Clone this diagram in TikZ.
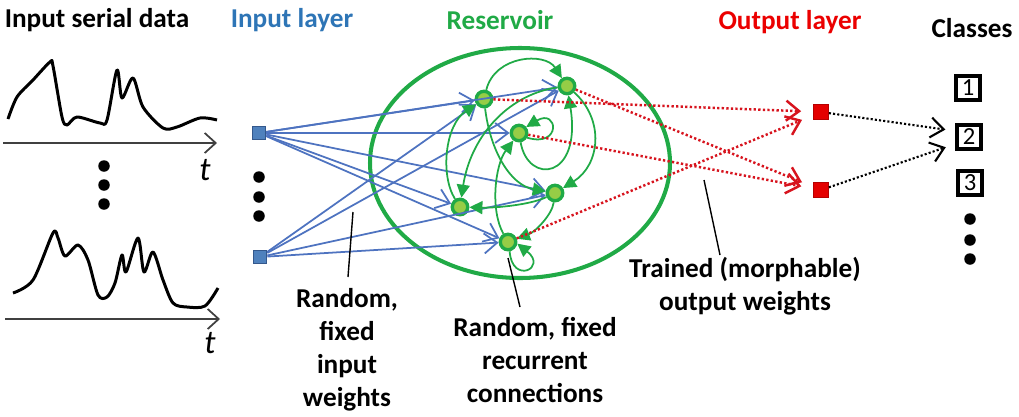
\documentclass[tikz,border=0pt]{standalone}
\usepackage{fontspec}
\setmainfont{Carlito}
\usepackage{tikz}
\usetikzlibrary{positioning,arrows.meta,calc}
\definecolor{inblue}{RGB}{46,117,182}
\definecolor{wblue}{RGB}{78,115,192}
\definecolor{sqblue}{RGB}{79,129,189}
\definecolor{sqedge}{RGB}{52,88,140}
\definecolor{resgreen}{RGB}{32,170,70}
\definecolor{nfill}{RGB}{150,205,70}
\definecolor{outred}{RGB}{235,0,0}
\definecolor{sqred}{RGB}{228,0,0}
\definecolor{dotred}{RGB}{215,20,30}
\tikzset{
  title/.style={font=\fontsize{15.5}{18}\selectfont\bfseries, inner sep=0pt},
  lbl/.style={font=\fontsize{15.5}{18.8}\selectfont\bfseries, align=center, inner sep=0pt},
  insq/.style={rectangle, draw=sqedge, fill=sqblue, line width=0.9pt, minimum size=2.6mm, inner sep=0pt},
  outsq/.style={rectangle, draw=sqred!80!black, fill=sqred, line width=0.7pt, minimum size=2.9mm, inner sep=0pt},
  neuron/.style={circle, draw=resgreen, fill=nfill, line width=1.9pt, minimum size=3.1mm, inner sep=0pt},
  cls/.style={rectangle, draw=black, line width=2pt, minimum size=4.8mm, inner sep=0pt, font=\fontsize{14}{15}\selectfont},
  bigdot/.style={circle, fill=black, minimum size=2.3mm, inner sep=0pt},
  sig/.style={line width=1.7pt, line join=round},
  axis/.style={-{Straight Barb[length=2.2mm,width=4mm]}, line width=1pt, draw=black!75},
  inw/.style={-{Straight Barb[length=2.6mm,width=4mm]}, line width=1pt, draw=wblue},
  rec/.style={-{Triangle[length=2.6mm,width=2.6mm]}, line width=1pt, draw=resgreen},
  outw/.style={-{Straight Barb[length=2.6mm,width=4mm]}, line width=1.4pt, draw=dotred, dash pattern=on 1.3pt off 1.3pt, shorten >=2.4mm},
  clw/.style={-{Straight Barb[length=2.6mm,width=4mm]}, line width=1.2pt, draw=black, dash pattern=on 1.2pt off 1.2pt, shorten >=2mm},
  ptr/.style={line width=0.8pt, draw=black},
}
\begin{document}
\begin{tikzpicture}[x=0.2mm, y=-0.2mm]
  \useasboundingbox (0,0) rectangle (1019,416);

  \node[title] (tin) at (97,20) {Input serial data};
  \node[title, text=inblue] (tlay) at (292,20) {Input layer};
  \node[title, text=resgreen] (tres) at (500,20) {Reservoir};
  \node[title, text=outred] (tout) at (790,22) {Output layer};
  \node[title] (tcls) at (972,28) {Classes};

  % input signals
  \draw[sig] plot[smooth, tension=0.5] coordinates {(8,119) (17,97) (33,80) (50,62) (53,66) (62,117) (67,125) (77,117) (100,123) (107,120) (117,70) (122,98) (133,78) (143,107) (163,128) (177,127) (200,118) (217,120)};
  \draw[axis] (3,143) -- (217,143);
  \node[font=\fontsize{19}{20}\selectfont\itshape] (t1) at (205,170) {t};
  \foreach \yy in {166,185,204} \node[bigdot] at (104,\yy) {};
  \draw[sig] plot[smooth, tension=0.5] coordinates {(13,293) (33,280) (53,233) (58,238) (65,256) (78,245) (88,260) (98,295) (107,297) (115,283) (122,255) (126,272) (138,238) (144,272) (153,252) (163,280) (173,303) (187,307) (205,306) (218,288)};
  \draw[axis] (5,319) -- (220,319);
  \node[font=\fontsize{19}{20}\selectfont\itshape] (t2) at (210,343) {t};

  % input layer
  \node[insq] (i1) at (259,133) {};
  \node[insq] (i2) at (260,257) {};
  \foreach \yy in {177,197,216} \node[bigdot] at (259,\yy) {};

  % reservoir
  \draw[resgreen, line width=2.3pt] (520,163) ellipse [x radius=150, y radius=115];
  \node[neuron] (n1) at (484,99) {};
  \node[neuron] (n2) at (567,86) {};
  \node[neuron] (n3) at (519,133) {};
  \node[neuron] (n4) at (555,193) {};
  \node[neuron] (n5) at (460,207) {};
  \node[neuron] (n6) at (508,242) {};

  \foreach \b in {n1,n2,n3,n4,n5,n6} \draw[inw] (i1) -- (\b);
  \foreach \b in {n1,n2,n4,n6} \draw[inw] (i2) -- (\b);

  \draw[rec] (n1) .. controls (495,55) and (545,52) .. (n2);
  \draw[rec] (n2) .. controls (505,95) and (470,140) .. (n5);
  \draw[rec] (n1) .. controls (490,150) and (510,185) .. (n4);
  \draw[rec] (n5) .. controls (440,175) and (445,125) .. (n1);
  \draw[rec] (n4) .. controls (530,205) and (495,208) .. (n5);
  \draw[rec] (n2) .. controls (605,120) and (600,165) .. (n4);
  \draw[rec] (n3) .. controls (528,185) and (582,180) .. (n2);
  \draw[rec] (n3.-30) .. controls (562,148) and (558,108) .. (n3.40);
  \draw[rec] (n6) .. controls (490,210) and (495,165) .. (n3);
  \draw[rec] (n4) .. controls (552,215) and (535,232) .. (n6);
  \draw[rec] (n6.-80) .. controls (512,285) and (548,268) .. (n6.-10);

  % output layer
  \node[outsq] (o1) at (821,112) {};
  \node[outsq] (o2) at (821,190) {};
  \draw[outw] (n1) -- (o1);
  \draw[outw] (n6) -- (o1);
  \draw[outw] (n2) -- (o2);
  \draw[outw] (n3) -- (o2);

  % classes
  \node[cls] (c1) at (968,88) {1};
  \node[cls] (c2) at (969,137) {2};
  \node[cls] (c3) at (970,183) {3};
  \foreach \yy in {219,240,259} \node[bigdot] at (970,\yy) {};
  \draw[clw] (o1) -- ($(c2.west)+(0,-6)$);
  \draw[clw] (o2) -- ($(c2.west)+(0,7)$);

  % labels
  \node[lbl] (l1) at (347,350) {Random,\\fixed\\input\\weights};
  \node[lbl] (l2) at (535,360) {Random, fixed\\recurrent\\connections};
  \node[lbl] (l3) at (745,286) {Trained (morphable)\\output weights};
  \coordinate (p1) at (353,212);
  \coordinate (p2) at (508,258);
  \coordinate (p3) at (704,180);
  \draw[ptr] (p1) -- (348,277);
  \draw[ptr] (p2) -- (520,307);
  \draw[ptr] (p3) -- (720,255);
\end{tikzpicture}
\end{document}
